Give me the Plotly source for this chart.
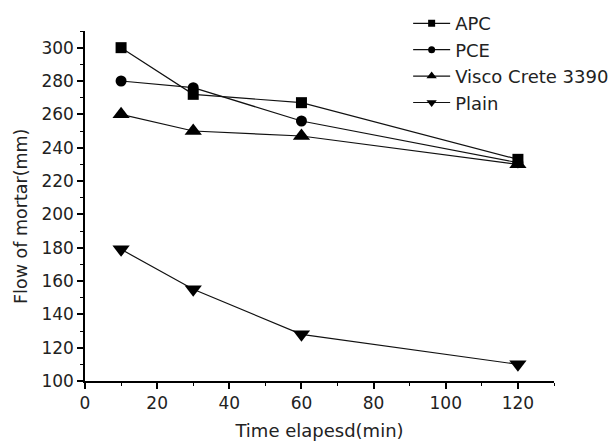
import plotly.graph_objects as go

time_min = [10, 30, 60, 120]
apc = [300, 272, 267, 233]
pce = [280, 276, 256, 231]
visco = [260, 250, 247, 230]
plain = [179, 155, 128, 110]

series = [
    ("APC", apc, "square", 11, 7),
    ("PCE", pce, "circle", 11, 7),
    ("Visco Crete 3390", visco, "triangle-up", 15, 9),
    ("Plain", plain, "triangle-down", 15, 9),
]

fig = go.Figure()
for i, (name, vals, sym, sz, lsz) in enumerate(series):
    fig.add_trace(go.Scatter(
        x=time_min, y=vals, name=name, mode="lines+markers",
        line=dict(color="#111", width=1.2),
        marker=dict(symbol=sym, size=sz, color="black"),
        showlegend=False,
    ))
    # legend entry with the smaller legend symbol
    fig.add_trace(go.Scatter(
        x=[None], y=[None], name=name, mode="lines+markers",
        line=dict(color="#111", width=1.2),
        marker=dict(symbol=sym, size=lsz, color="black"),
        legendgroup=f"g{i}", showlegend=True,
    ))

fam = "DejaVu Sans, Verdana, sans-serif"
tick_font = dict(family=fam, size=17, color="#222")
title_font = dict(family=fam, size=18, color="#222")
axis_common = dict(
    showline=True, linecolor="black", linewidth=1.5,
    ticks="outside", ticklen=6, tickwidth=1.5, tickcolor="black",
    showgrid=False, zeroline=False, mirror=False,
    minor=dict(ticks="outside", ticklen=3, tickwidth=1, tickcolor="black"),
    tickfont=tick_font,
)
fig.update_xaxes(range=[0, 130], tick0=0, dtick=20,
                 title=dict(text="Time elapesd(min)", font=title_font, standoff=12),
                 minor_dtick=10, **axis_common)
fig.update_yaxes(range=[100, 310], tick0=100, dtick=20,
                 minor_dtick=10, **axis_common)

fig.add_annotation(
    text="Flow of mortar(mm)", textangle=-90, showarrow=False,
    xref="paper", yref="paper", x=(13 - 77) / 469, y=(373 - 209) / 350,
    xanchor="center", yanchor="middle",
    font=dict(family=fam, size=17.5, color="#222"),
)

fig.update_layout(
    width=608, height=436,
    margin=dict(l=77, r=62, t=23, b=63, autoexpand=False),
    paper_bgcolor="white", plot_bgcolor="white",
    font=title_font,
    legend=dict(x=0.689, y=1.074, xanchor="left", yanchor="top",
                bgcolor="rgba(0,0,0,0)", font=title_font, itemwidth=37,
                tracegroupgap=0),
    showlegend=True,
)
fig.write_html("out.html")
